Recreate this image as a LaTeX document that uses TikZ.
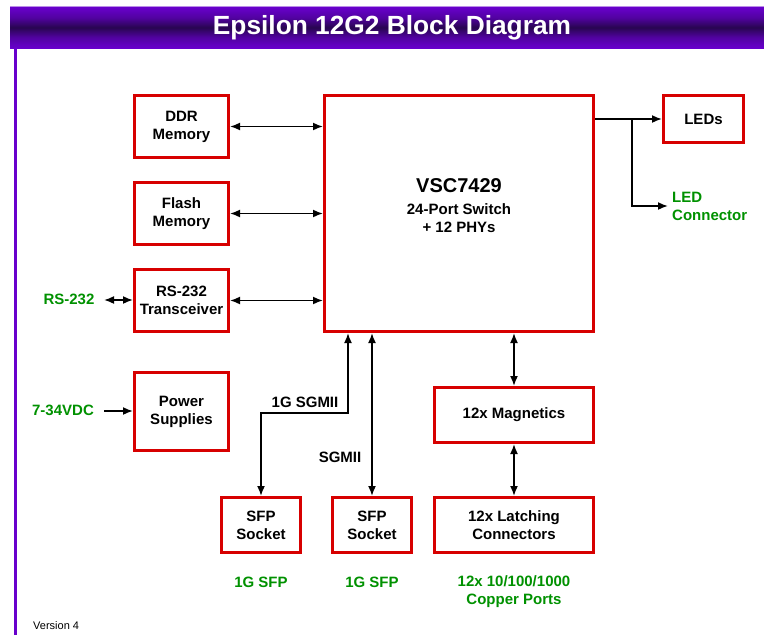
\documentclass[tikz,border=0pt]{standalone}
\usepackage{fontspec}
\setmainfont{Liberation Sans}
\usetikzlibrary{arrows.meta}
\definecolor{boxred}{RGB}{215,0,0}
\definecolor{lblgreen}{RGB}{0,145,0}
\definecolor{purp}{RGB}{104,0,204}
\definecolor{darkpurp}{RGB}{40,6,80}
\pgfdeclareverticalshading{titlebar}{100bp}{color(0bp)=(purp); color(25bp)=(purp); color(38bp)=(purp!65!darkpurp); color(50bp)=(darkpurp); color(62bp)=(purp!65!darkpurp); color(75bp)=(purp); color(100bp)=(purp)}
\begin{document}
\begin{tikzpicture}[x=1pt,y=-1pt,
  blk/.style={draw=boxred, line width=3pt, fill=white, font=\bfseries\fontsize{15}{18}\selectfont, align=center, inner sep=0pt},
  lbl/.style={text=lblgreen, font=\bfseries\fontsize{15}{18}\selectfont, align=center, inner sep=0pt},
  tag/.style={text=black, font=\bfseries\fontsize{15}{18}\selectfont, inner sep=0pt},
  conn/.style={line width=1.7pt, {Latex[length=10pt,width=8pt]}-{Latex[length=10pt,width=8pt]}},
  oneway/.style={line width=1.7pt, -{Latex[length=10pt,width=8pt]}}]
\useasboundingbox (0,0) rectangle (764,635);
% title bar
\shade[shading=titlebar] (10,7) rectangle (764,48);
\draw[purp!45, line width=1pt] (10,6.5) -- (764,6.5);
\node[text=white, font=\bfseries\fontsize{26.3}{30}\selectfont, inner sep=0pt] (title) at (392,28) {Epsilon 12G2 Block Diagram};
\draw[purp, line width=3pt] (15.5,48) -- (15.5,635);
% blocks
\node[blk, minimum width=94, minimum height=62] (ddr) at (181.5,126.5) {DDR\\Memory};
\node[blk, minimum width=94, minimum height=62] (flash) at (181.5,213.5) {Flash\\Memory};
\node[blk, minimum width=94, minimum height=62] (rs) at (181.5,300.5) {RS-232\\Transceiver};
\node[blk, minimum width=94, minimum height=78] (pwr) at (181.5,411.5) {Power\\Supplies};
\node[blk, minimum width=269, minimum height=236] (vsc) at (459,213.5) {};
\node[font=\bfseries\fontsize{20}{24}\selectfont, inner sep=0pt] (vsct) at (459,186) {VSC7429};
\node[font=\bfseries\fontsize{15}{18}\selectfont, align=center, inner sep=0pt] (vscs) at (459,218) {24-Port Switch\\+ 12 PHYs};
\node[blk, minimum width=80, minimum height=47] (leds) at (703.5,119) {LEDs};
\node[blk, minimum width=159, minimum height=55] (mag) at (514,415) {12x Magnetics};
\node[blk, minimum width=79, minimum height=55] (sfpa) at (261,525) {SFP\\Socket};
\node[blk, minimum width=79, minimum height=55] (sfpb) at (372,525) {SFP\\Socket};
\node[blk, minimum width=159, minimum height=55] (latch) at (514,525) {12x Latching\\Connectors};
% labels
\node[lbl] (rsl) at (69,299) {RS-232};
\node[lbl] (vdc) at (63,410) {7-34VDC};
\node[lbl, align=left, anchor=west] (ledc) at (672,206) {LED\\Connector};
\node[lbl] (sfpal) at (261,582) {1G SFP};
\node[lbl] (sfpbl) at (372,582) {1G SFP};
\node[lbl] (cop) at (514,592) {12x 10/100/1000\\Copper Ports};
\node[tag] (sg1) at (305,402) {1G SGMII};
\node[tag] (sg2) at (340,457) {SGMII};
\node[font=\fontsize{11}{13}\selectfont, anchor=west, inner sep=0pt] (ver) at (33,626) {Version 4};
% connectors
\draw[conn] (ddr.east) -- (vsc.west |- ddr.east);
\draw[conn] (flash.east) -- (vsc.west |- flash.east);
\draw[conn] (rs.east) -- (vsc.west |- rs.east);
\coordinate (rsa) at (104,300);
\draw[conn] (rsa) -- (rs.west |- rsa);
\coordinate (vdca) at (104,411);
\draw[oneway] (vdca) -- (pwr.west |- vdca);
\coordinate (ledo) at (vsc.east |- leds.west);
\draw[oneway] (ledo) -- (leds.west);
\coordinate (br) at (632,118);
\coordinate (ledce) at (668,206);
\draw[oneway] (br) |- (ledce);
\coordinate (bend) at (348,413);
\draw[conn] (sfpa.north) |- (bend) -- (bend |- vsc.south);
\draw[conn] (sfpb.north) -- (sfpb.north |- vsc.south);
\draw[conn] (mag.north) -- (mag.north |- vsc.south);
\draw[conn] (latch.north) -- (mag.south);
\end{tikzpicture}
\end{document}
